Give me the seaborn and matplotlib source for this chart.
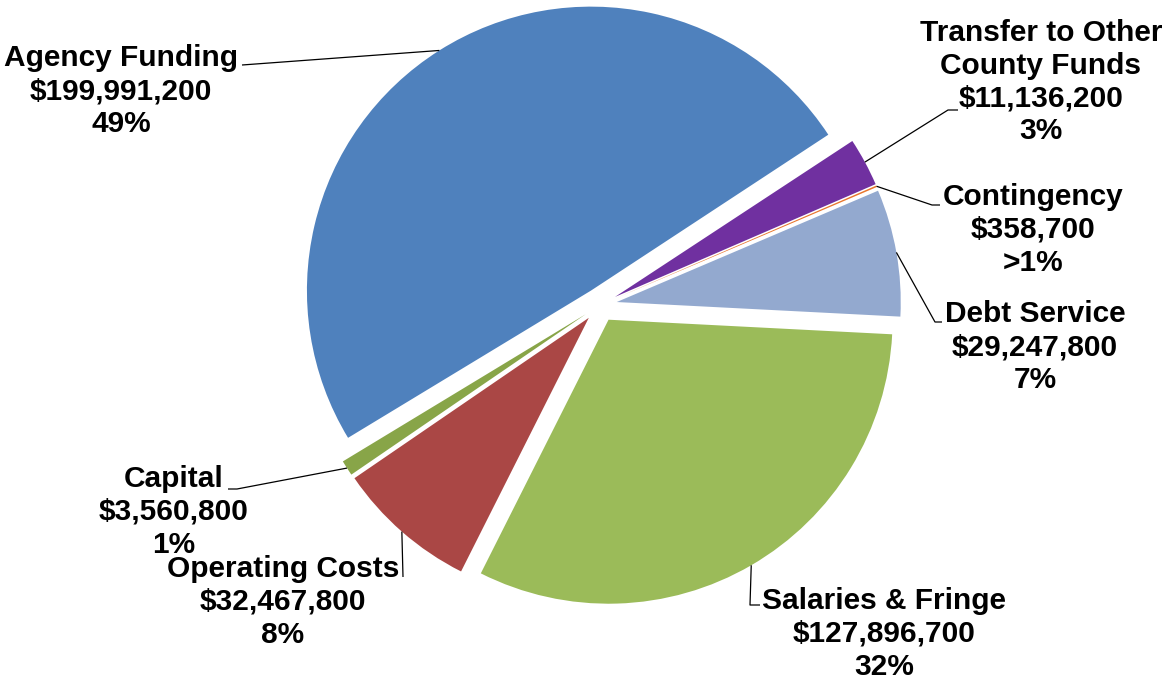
import matplotlib
matplotlib.use("Agg")
import matplotlib.pyplot as plt
import numpy as np
import seaborn as sns

# Budget categories, in drawing order (counter-clockwise from the start angle)
categories = [
    "Agency Funding", "Capital", "Operating Costs", "Salaries & Fringe",
    "Debt Service", "Contingency", "Transfer to Other\nCounty Funds",
]
amounts = [199991200, 3560800, 32467800, 127896700, 29247800, 358700, 11136200]
pct_labels = ["49%", "1%", "8%", "32%", "7%", ">1%", "3%"]

colors = ["#4F81BD", "#88A548", "#AA4745", "#9BBB59", "#93A9CF", "#E8762D", "#7030A0"]

# Label layout, in figure pixels with the origin at the lower left:
# text-block centre, elbow of the leader line, and where the leader ends.
label_xy = [(121, 593), (174, 172), (283, 82), (884, 50), (1035, 337), (1033, 454), (1041, 602)]
elbow_xy = [(242, 619), (237, 195), (403, 107), (750, 79), (935, 362), (932, 479), (948, 574)]
end_xy = [(242, 619), (228, 195), (403, 107), (760, 79), (942, 362), (940, 479), (958, 574)]

sns.set_theme(style="white")
plt.rcParams["font.family"] = ["Liberation Sans", "DejaVu Sans"]

W, H = 1162, 684
fig = plt.figure(figsize=(W / 100, H / 100), dpi=100)
ax = fig.add_axes([0, 0, 1, 1])

radius = 284
center = (600, H - 305)
wedges, _ = ax.pie(
    amounts,
    colors=sns.color_palette(colors),
    startangle=33.3,
    counterclock=True,
    radius=radius,
    center=center,
    explode=[17] * len(amounts),
    wedgeprops=dict(linewidth=0),
    frame=False,
)
ax.set_xlim(0, W)
ax.set_ylim(0, H)
ax.set_aspect("equal")
ax.axis("off")

for w, cat, amt, pct, txy, exy, nxy in zip(
        wedges, categories, amounts, pct_labels, label_xy, elbow_xy, end_xy):
    mid = np.deg2rad(0.5 * (w.theta1 + w.theta2))
    cx, cy = w.center
    ax_pt = (cx + w.r * np.cos(mid), cy + w.r * np.sin(mid))
    ax.plot([ax_pt[0], exy[0], nxy[0]], [ax_pt[1], exy[1], nxy[1]],
            color="black", lw=0.9, solid_capstyle="butt", zorder=3)
    text = f"{cat}\n${amt:,.0f}\n{pct}"
    ax.text(txy[0], txy[1], text, ha="center", va="center", multialignment="center",
            fontsize=21.5, fontweight="bold", color="black", linespacing=1.21, zorder=4)

fig.savefig("out.png", dpi=100, facecolor="white")
